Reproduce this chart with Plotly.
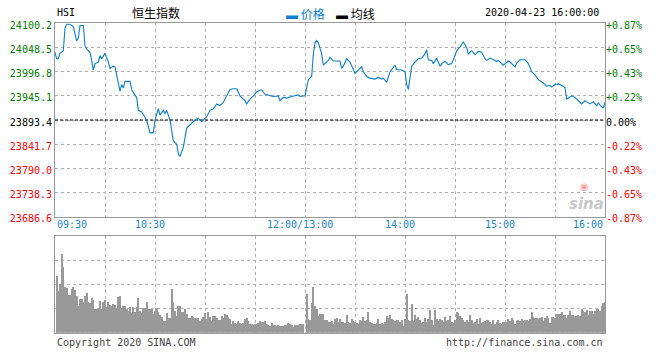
import plotly.graph_objects as go

# ---------------- data ----------------
price_times = [
    "09:30", "09:31", "09:32", "09:33", "09:35", "09:36", "09:37", "09:39", "09:41", "09:42",
    "09:43", "09:44", "09:45", "09:47", "09:48", "09:49", "09:51", "09:52", "09:53", "09:54",
    "09:56", "09:57", "09:58", "10:00", "10:01", "10:02", "10:03", "10:05", "10:06", "10:07",
    "10:08", "10:09", "10:10", "10:11", "10:12", "10:15", "10:16", "10:17", "10:19", "10:20",
    "10:22", "10:25", "10:27", "10:29", "10:30", "10:32", "10:33", "10:35", "10:36", "10:37",
    "10:39", "10:41", "10:43", "10:44", "10:45", "10:47", "10:49", "10:51", "10:52", "10:54",
    "10:56", "10:58", "11:00", "11:01", "11:03", "11:05", "11:07", "11:09", "11:11", "11:13",
    "11:15", "11:17", "11:19", "11:21", "11:24", "11:25", "11:27", "11:29", "11:31", "11:33",
    "11:34", "11:36", "11:39", "11:41", "11:44", "11:45", "11:47", "11:49", "11:52", "11:56",
    "11:57", "12:00",
    "13:01", "13:02", "13:04", "13:05", "13:06", "13:07", "13:08", "13:10", "13:11", "13:13",
    "13:14", "13:15", "13:17", "13:21", "13:22", "13:23", "13:25", "13:27", "13:29", "13:30",
    "13:32", "13:34", "13:35", "13:37", "13:39", "13:42", "13:44", "13:46", "13:47", "13:49",
    "13:51", "13:53", "13:54", "13:55", "13:58", "14:00", "14:01", "14:02", "14:03", "14:04",
    "14:06", "14:08", "14:10", "14:12", "14:13", "14:14", "14:16", "14:17", "14:19", "14:21",
    "14:22", "14:24", "14:26", "14:28", "14:29", "14:31", "14:33", "14:35", "14:37", "14:38",
    "14:40", "14:42", "14:44", "14:46", "14:48", "14:49", "14:51", "14:53", "14:55", "14:56",
    "14:58", "14:59", "15:02", "15:03", "15:06", "15:07", "15:09", "15:12", "15:14", "15:16",
    "15:18", "15:20", "15:23", "15:25", "15:27", "15:28", "15:30", "15:32", "15:35", "15:36",
    "15:37", "15:40", "15:42", "15:43", "15:46", "15:48", "15:49", "15:51", "15:53", "15:55",
    "15:56", "15:58", "15:59", "16:00",
]
price_values = [
    24038.2, 24024.4, 24024.4, 24036.1, 24041.6, 24089.9, 24098.1, 24098.1, 24093.3, 24079.5,
    24062.3, 24069.2, 24095.4, 24095.4, 24051.9, 24045.0, 24038.2, 24020.9, 24000.3, 24014.0,
    24017.5, 24031.3, 24024.4, 24036.0, 24027.8, 24017.5, 24003.7, 24008.5, 24007.1, 23989.9,
    23979.6, 23955.4, 23969.2, 23962.3, 23976.1, 23976.1, 23958.9, 23952.0, 23941.7, 23914.1,
    23910.6, 23893.4, 23865.8, 23865.8, 23893.4, 23917.5, 23903.7, 23914.1, 23907.2, 23914.1,
    23893.4, 23848.6, 23841.7, 23821.0, 23815.5, 23834.8, 23876.2, 23883.1, 23886.5, 23893.4,
    23896.9, 23890.0, 23896.9, 23900.3, 23914.1, 23917.5, 23927.9, 23924.4, 23931.3, 23945.1,
    23958.9, 23960.3, 23960.3, 23945.1, 23934.8, 23927.9, 23938.2, 23945.1, 23953.4, 23957.5,
    23957.5, 23948.5, 23945.1, 23943.7, 23945.1, 23934.8, 23941.7, 23940.3, 23943.7, 23947.2,
    23943.7, 23945.1,
    23962.3, 23979.6, 23986.5, 24034.7, 24058.8, 24063.7, 24058.8, 24034.7, 24010.6, 24017.5,
    24020.9, 24027.8, 24019.6, 24019.6, 24003.7, 24008.5, 24024.4, 24017.5, 24003.7, 23993.4,
    24000.3, 24007.1, 23996.8, 23986.5, 23983.0, 23981.0, 23984.4, 23981.0, 23983.0, 23974.1,
    23996.8, 24007.1, 24010.6, 24001.6, 24000.3, 23996.8, 23969.2, 23958.9, 23986.5, 24008.5,
    24017.5, 24024.4, 24025.8, 24034.7, 24043.7, 24022.3, 24020.9, 24014.0, 24025.8, 24008.5,
    24014.0, 24018.9, 24012.0, 24014.0, 24022.3, 24041.6, 24049.9, 24060.2, 24048.5, 24034.7,
    24041.6, 24033.3, 24040.2, 24038.2, 24024.4, 24020.9, 24025.8, 24022.3, 24018.9, 24020.9,
    24014.0, 24010.6, 24019.6, 24017.5, 24007.1, 24015.4, 24022.3, 24022.3, 24014.0, 23996.8,
    23989.9, 23979.6, 23972.7, 23965.8, 23967.2, 23963.7, 23969.2, 23970.6, 23965.8, 23962.3,
    23938.2, 23945.1, 23941.7, 23938.2, 23927.9, 23934.8, 23932.7, 23927.9, 23932.7, 23924.4,
    23930.0, 23921.0, 23919.6, 23931.3,
]

# volume per minute (arbitrary units), morning from 09:31, afternoon from 13:01
vol_am_start = "09:31"
vol_am = [
    176, 128, 151, 243, 204, 141, 138, 118, 118, 134,
    141, 131, 114, 84, 104, 104, 96, 114, 123, 96,
    91, 108, 101, 74, 74, 74, 99, 74, 94, 101,
    81, 94, 86, 84, 89, 86, 78, 111, 114, 76,
    84, 84, 74, 68, 81, 61, 81, 63, 81, 108,
    66, 61, 78, 78, 96, 74, 74, 74, 58, 66,
    78, 64, 54, 48, 36, 36, 61, 44, 44,
    134, 96, 66, 51, 84, 84, 64, 64, 74, 59,
    44, 44, 51, 48, 46, 46, 44, 36, 41, 48,
    61, 41, 63, 48, 36, 51, 51, 44, 38, 38,
    51, 44, 58, 54, 48, 41, 28, 36, 31, 28,
    36, 31, 28, 31, 41, 44, 36, 26, 28, 24,
    28, 28, 31, 36, 34, 34, 36, 26, 24, 21,
    31, 24, 24, 21, 24, 21, 21, 21, 23, 24,
    31, 26, 24, 18, 24, 24, 24, 26, 26, 26,
]
vol_pm_start = "13:01"
vol_pm = [
    121, 41, 38, 91, 141, 84, 74, 51, 58, 58, 58, 38, 38, 34,
    34, 36, 28, 41, 44, 34, 41, 34, 34, 31,
    54, 34, 31, 41, 36, 34, 31, 28, 38, 36,
    48, 36, 38, 64, 34, 31, 28, 28, 31, 41,
    28, 31, 28, 34, 51, 44, 54, 41, 38, 36,
    38, 38, 34, 38, 21, 41, 121, 38, 36, 88,
    36, 54, 41, 48, 38, 31, 34, 44, 34, 41,
    69, 38, 24, 69, 41, 36, 41, 38, 34, 48,
    36, 38, 51, 34, 31, 38, 64, 61, 51, 44,
    38, 34, 38, 34, 54, 38, 31, 34, 41, 28,
    44, 31, 34, 36, 38, 38, 34, 26, 38, 28,
    34, 38, 31, 28, 34, 34, 34, 41, 36, 46,
    38, 28, 36, 38, 36, 41, 36, 38, 38, 36,
    41, 63, 48, 44, 44, 41, 46, 48, 36, 44,
    51, 44, 31, 48, 48, 44, 58, 58, 58, 64,
    56, 54, 44, 54, 66, 56, 56, 51, 51, 56,
    51, 74, 66, 64, 71, 56, 68, 68, 58, 68,
    74, 74, 68, 84, 91, 94,
]

prev_close = 23893.4
price_tick_labels = ["24100.2", "24048.5", "23996.8", "23945.1", "23893.4",
                     "23841.7", "23790.0", "23738.3", "23686.6"]
pct_tick_labels = ["+0.87%", "+0.65%", "+0.43%", "+0.22%", "0.00%",
                   "-0.22%", "-0.43%", "-0.65%", "-0.87%"]
time_labels = ["09:30", "10:30", "12:00/13:00", "14:00", "15:00", "16:00"]
grid_times = ["09:30", "10:00", "10:30", "11:00", "11:30", "12:00", "13:30",
              "14:00", "14:30", "15:00", "15:30", "16:00"]
vol_grid = [75, 150, 225]
vol_max = 300


# ---------------- helpers ----------------
def to_idx(t):
    t = t.split("/")[0]
    h, m = map(int, t.split(":"))
    mins = h * 60 + m
    if mins <= 720:
        return mins - 570
    return mins - 780 + 150


px = [to_idx(t) for t in price_times]
vam0 = to_idx(vol_am_start)
vpm0 = to_idx(vol_pm_start)
vx = [vam0 + i for i in range(len(vol_am))] + [vpm0 + i for i in range(len(vol_pm))]
vy = vol_am + vol_pm

GREEN = "#008000"
RED = "#ff0000"
BLUE_T = "#1a85d0"
LINE = "#0a7fd0"
FRAME = "#999999"
GRID = "#b0b0b0"
MONO = "DejaVu Sans Mono"
CJK = "Noto Sans CJK SC"

tickvals = [float(s) for s in price_tick_labels]


def col(v):
    if abs(v - prev_close) < 1e-6:
        return "#000000"
    return GREEN if v > prev_close else RED


left_text = [f"<span style='color:{col(v)}'>{s}</span>" for v, s in zip(tickvals, price_tick_labels)]
right_text = [f"<span style='color:{col(v)}'>{s}</span>" for v, s in zip(tickvals, pct_tick_labels)]

W, H = 660, 360
X0, X1 = 55, 605
MY0, MY1 = 20, 220
VY0, VY1 = 240, 340

xdom = [X0 / W, X1 / W]
main_dom = [1 - MY1 / H, 1 - MY0 / H]
vol_dom = [1 - VY1 / H, 1 - VY0 / H]
xr = [0, 330]

fig = go.Figure()
fig.add_trace(go.Scatter(x=px, y=price_values, mode="lines",
                         line=dict(color=LINE, width=1.1), xaxis="x", yaxis="y",
                         hoverinfo="skip"))
fig.add_trace(go.Bar(x=vx, y=vy, marker=dict(color="#999999", line=dict(width=0)),
                     width=0.55, xaxis="x2", yaxis="y3", hoverinfo="skip"))

gvals = [to_idx(t) for t in grid_times]

axis_common = dict(showline=True, linecolor=FRAME, linewidth=1, mirror=True,
                   showgrid=True, gridcolor=GRID, griddash="dot", gridwidth=1,
                   zeroline=False, ticks="")

fig.update_layout(
    width=W, height=H, margin=dict(l=0, r=0, t=0, b=0),
    paper_bgcolor="white", plot_bgcolor="white", showlegend=False,
    bargap=0,
    xaxis=dict(domain=xdom, range=xr, tickvals=gvals, showticklabels=False,
               anchor="y", **axis_common),
    yaxis=dict(domain=main_dom, range=[tickvals[-1], tickvals[0]], tickvals=tickvals,
               ticktext=left_text, tickfont=dict(family=MONO, size=10),
               ticklabelshift=2, anchor="x", **axis_common),
    yaxis2=dict(overlaying="y", side="right", range=[tickvals[-1], tickvals[0]],
                tickvals=tickvals, ticktext=right_text, tickfont=dict(family=MONO, size=10),
                ticklabelshift=2,
                showgrid=False, zeroline=False, showline=False, ticks="", anchor="x"),
    xaxis2=dict(domain=xdom, range=xr, tickvals=gvals, showticklabels=False,
                anchor="y3", **axis_common),
    yaxis3=dict(domain=vol_dom, range=[0, vol_max], tickvals=vol_grid,
                showticklabels=False, anchor="x2", **axis_common),
)
# dummy trace to make the right axis render
fig.add_trace(go.Scatter(x=[None], y=[None], xaxis="x", yaxis="y2", showlegend=False))

fig.add_shape(type="line", xref="x", yref="y", x0=xr[0], x1=xr[1], y0=prev_close, y1=prev_close,
              line=dict(color="black", width=1, dash="3px,2px"), layer="between")

ann = []
# time labels
for i, t in enumerate(time_labels):
    xi = to_idx(t)
    if i == 0:
        xa, sh = "left", 0
    elif i == len(time_labels) - 1:
        xa, sh = "right", 0
    else:
        xa, sh = "center", -5
    ann.append(dict(x=xi, y=1 - 228 / H, xref="x", yref="paper", text=t, showarrow=False,
                    xanchor=xa, yanchor="middle", xshift=sh,
                    font=dict(family=MONO, size=10, color=BLUE_T)))

# header
ann.append(dict(x=X0 / W, y=1 - 9 / H, xref="paper", yref="paper", text="HSI", showarrow=False,
                xanchor="left", yanchor="middle", font=dict(family=MONO, size=10, color="#000")))
ann.append(dict(x=130 / W, y=1 - 9 / H, xref="paper", yref="paper", text="恒生指数", showarrow=False,
                xanchor="left", yanchor="middle", font=dict(family=CJK, size=12, color="#000")))
ann.append(dict(x=284 / W, y=1 - 10 / H, xref="paper", yref="paper",
                text=f"<span style='color:{LINE}'>▬ 价格</span>", showarrow=False,
                xanchor="left", yanchor="middle", font=dict(family=CJK, size=12)))
ann.append(dict(x=334 / W, y=1 - 10 / H, xref="paper", yref="paper",
                text="<span style='color:#000'>▬ 均线</span>", showarrow=False,
                xanchor="left", yanchor="middle", font=dict(family=CJK, size=12)))
ann.append(dict(x=601 / W, y=1 - 9 / H, xref="paper", yref="paper", text="2020-04-23 16:00:00",
                showarrow=False, xanchor="right", yanchor="middle",
                font=dict(family=MONO, size=10, color="#000")))
# footer
ann.append(dict(x=X0 / W, y=1 - 350 / H, xref="paper", yref="paper", text="Copyright 2020 SINA.COM",
                showarrow=False, xanchor="left", yanchor="middle",
                font=dict(family=MONO, size=10, color="#444")))
ann.append(dict(x=X1 / W, y=1 - 350 / H, xref="paper", yref="paper", text="http://finance.sina.com.cn",
                showarrow=False, xanchor="right", yanchor="middle",
                font=dict(family=MONO, size=10, color="#444")))
# watermark
ann.append(dict(x=586 / W, y=1 - 207 / H, xref="paper", yref="paper", text="<b><i>sina</i></b>",
                showarrow=False, xanchor="center", yanchor="middle",
                font=dict(family="DejaVu Sans", size=15, color="#c8c8c8")))
ann.append(dict(x=584 / W, y=1 - 189 / H, xref="paper", yref="paper", text="◉",
                showarrow=False, xanchor="center", yanchor="middle",
                font=dict(family="DejaVu Sans", size=10, color="#f4a0a0")))
fig.update_layout(annotations=ann)

fig.write_html("out.html", config={"displayModeBar": False},
               post_script="document.body.style.margin='0';document.body.style.padding='0';")
